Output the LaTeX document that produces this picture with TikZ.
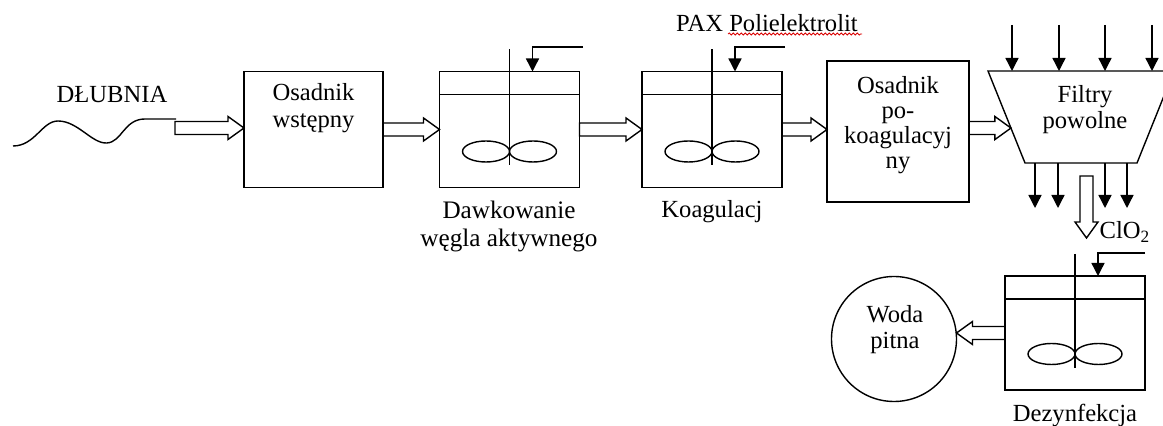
\documentclass[tikz,border=0pt]{standalone}
\usepackage{fontspec}
\setmainfont{Liberation Serif}
\usetikzlibrary{positioning,calc,arrows.meta,decorations.pathmorphing}

\tikzset{
  tank/.style={draw, rectangle, minimum width=70pt, minimum height=58pt, inner sep=0pt, outer sep=0pt},
  box/.style={draw, rectangle, inner sep=0pt, outer sep=0pt},
  txt/.style={align=center, inner sep=0pt},
  feed/.style={-{Triangle[length=6.5pt,width=6.5pt]}},
  spell/.style={red!85!black, line width=0.4pt, decorate, decoration={snake, segment length=2pt, amplitude=0.5pt}},
  hollow/.style={to path={let \p1=(\tikztostart), \p2=(\tikztotarget), \p3=($(\p2)!8pt!(\p1)$) in
    ($(\p1)!3.25pt!90:(\p2)$) -- ($(\p3)!3.25pt!90:(\p2)$) -- ($(\p3)!5.75pt!90:(\p2)$) -- (\p2)
    -- ($(\p3)!5.75pt!-90:(\p2)$) -- ($(\p3)!3.25pt!-90:(\p2)$) -- ($(\p1)!3.25pt!-90:(\p2)$) -- cycle}}
}

% inner parts of a mixing tank
\newcommand{\tankinside}[1]{%
  \draw ($(#1.north west)+(0,23)$) -- ($(#1.north east)+(0,23)$);
  \draw ($(#1.north)+(0,-22)$) -- ($(#1.south)+(0,-22)$);
  \draw ($(#1.south)+(-23.5,-36)$) ellipse [x radius=23.5, y radius=10.5]
        ($(#1.south)+(23.5,-36)$) ellipse [x radius=23.5, y radius=10.5];
}

\begin{document}
\begin{tikzpicture}[x=0.5pt, y=-0.5pt, line width=0.7pt, font=\fontsize{12.3}{13.5}\selectfont]
	\useasboundingbox (0,0) rectangle (1163,426);
	\clip (0,0) rectangle (1163,426);

	% river
	\node[txt] (rzeka) at (112,95) {DŁUBNIA};
	\coordinate (wlot) at (175,128);
	\draw (13,146) .. controls (35,146) and (42,121) .. (58,121)
		.. controls (78,121) and (92,144) .. (107,143)
		.. controls (122,142) and (124,119) .. (145,119) -- (176,119);

	% process line
	\node[box, minimum width=69.5pt, minimum height=58pt] (osad1) at (313.5,129.5) {};
	\node[txt] at (313.5,108.5) {Osadnik\\wstępny};
	\node[tank] (mix1) at (509.5,129.5) {};
	\node[tank] (mix2) at (712,129.5) {};
	\node[box, minimum width=71pt, minimum height=70.5pt] (osad2) at (898,131.5) {};
	\node[txt, font=\fontsize{12.3}{12.5}\selectfont] at (898,125.5) {Osadnik\\po-\\koagulacyj\\ny};
	\tankinside{mix1}
	\tankinside{mix2}

	\node[txt, font=\fontsize{12.6}{14}\selectfont] at (509,226) {Dawkowanie\\węgla aktywnego};
	\node[txt] at (712,212) {Koagulacj};
	\node[txt] (pax) at (767,23) {PAX Polielektrolit};
	\draw[spell] (728,34) -- (862,34);

	\coordinate (dose1) at (583,47);
	\coordinate (dose2) at (785,47);
	\draw[feed] (dose1) -| ($(mix1.north)+(23,0)$);
	\draw[feed] (dose2) -| ($(mix2.north)+(23,0)$);

	% slow filters
	\coordinate (ftl) at (988,71);
	\coordinate (ftr) at (1174,71);
	\coordinate (fbr) at (1137,163);
	\coordinate (fbl) at (1025,163);
	\draw (ftl) -- (ftr) -- (fbr) -- (fbl) -- cycle;
	\coordinate (fin) at ($(ftl)!0.62!(fbl)$);
	\node[txt, font=\fontsize{12.3}{13}\selectfont] (filtr) at (1085,110) {Filtry\\powolne};
	\foreach \x in {1012,1059,1105,1152}
		\draw[feed] (\x,25) -- (\x,71);
	\foreach \x in {1035,1058,1105,1127}
		\draw[feed] (\x,163) -- (\x,208);

	\draw (wlot) to[hollow] (wlot -| osad1.west);
	\draw (osad1.east) to[hollow] (mix1.west);
	\draw (mix1.east) to[hollow] (mix2.west);
	\draw (mix2.east) to[hollow] (mix2.east -| osad2.west);
	\draw (osad2.east |- fin) to[hollow] (fin);

	% disinfection
	\coordinate (cl1) at (1086.5,176);
	\coordinate (cl2) at (1086.5,238);
	\draw (cl1) to[hollow] (cl2);
	\node[txt, anchor=west] (clo) at (1099,232) {ClO\textsubscript{2}};
	\node[tank, minimum height=57pt] (mix3) at (1075,333) {};
	\tankinside{mix3}
	\coordinate (dose3) at (1145,253);
	\draw[feed] (dose3) -| ($(mix3.north)+(23,0)$);
	\node[txt] at (1075,415) {Dezynfekcja};

	\node[draw, circle, minimum size=62.5pt, inner sep=0pt, outer sep=0pt] (woda) at (894,339) {};
	\node[txt, font=\fontsize{12.3}{13}\selectfont] at (895,330) {Woda\\pitna};
	\draw (mix3.west) to[hollow] (mix3.west -| woda.east);
\end{tikzpicture}
\end{document}
